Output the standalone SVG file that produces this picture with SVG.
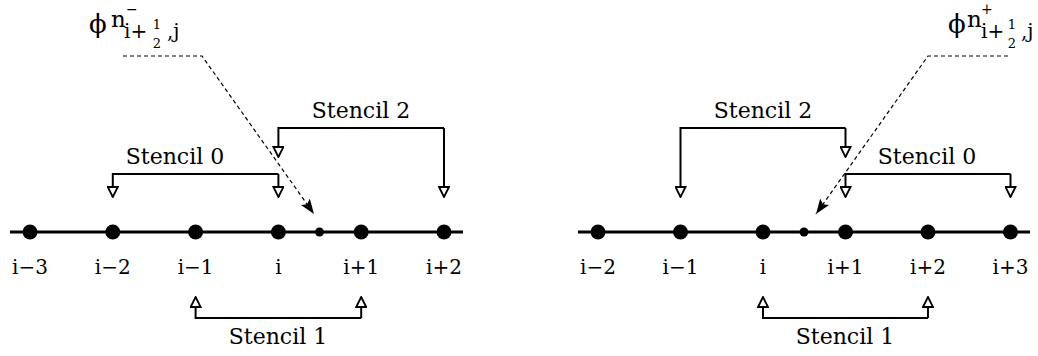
<svg xmlns="http://www.w3.org/2000/svg" width="1038" height="356" viewBox="0 0 1038 356">
<style>
text{font-family:"DejaVu Serif","Liberation Serif",serif;fill:#000}
.idx{font-size:20px;text-anchor:middle}
.st{font-size:22px;text-anchor:middle}
.axis{stroke:#000;stroke-width:3;fill:none}
.br{stroke:#000;stroke-width:2;fill:none;marker-end:url(#open)}
.dash{stroke:#000;stroke-width:1.2;fill:none;stroke-dasharray:4,3}
.dot{fill:#000}
.phi{font-size:26px}
.n{font-size:23px}
.sub{font-size:20px}
.fr{font-size:13px;text-anchor:middle}
.sup{font-size:14px}
</style>
<defs>
<marker id="open" markerUnits="userSpaceOnUse" viewBox="0 0 12 12" markerWidth="12" markerHeight="12" refX="11" refY="6" orient="auto">
<path d="M1,1 L11,6 L1,11 z" fill="#fff" stroke="#000" stroke-width="1.8"/>
</marker>
<marker id="solid" markerUnits="userSpaceOnUse" viewBox="0 0 16 12" markerWidth="16" markerHeight="12" refX="15" refY="6" orient="auto">
<path d="M0,0.5 L15,6 L0,11.5 L3,6 z" fill="#000"/>
</marker>
</defs>

<g id="connectors">
<line class="axis" x1="10" y1="232" x2="463" y2="232"/>
<polyline class="br" points="278.4,174 112.8,174 112.8,197"/>
<line class="br" x1="278.4" y1="174" x2="278.4" y2="197"/>
<polyline class="br" points="444,128 278.4,128 278.4,157"/>
<line class="br" x1="444" y1="128" x2="444" y2="197"/>
<polyline class="br" points="361.2,318 195.6,318 195.6,297"/>
<line class="br" x1="361.2" y1="318" x2="361.2" y2="297"/>
<polyline class="dash" points="123,56 202,56 314,214" marker-end="url(#solid)"/>
<line class="axis" x1="578" y1="232" x2="1030" y2="232"/>
<polyline class="br" points="845.5,128 680.5,128 680.5,197"/>
<line class="br" x1="845.5" y1="128" x2="845.5" y2="157"/>
<polyline class="br" points="1010.5,174 845.5,174 845.5,197"/>
<line class="br" x1="1010.5" y1="174" x2="1010.5" y2="197"/>
<polyline class="br" points="928,318 763,318 763,297"/>
<line class="br" x1="928" y1="318" x2="928" y2="297"/>
<polyline class="dash" points="1008,56 928,56 816,214" marker-end="url(#solid)"/>
</g>

<g id="left-points">
<circle class="dot" cx="30" cy="232" r="7.5"/>
<circle class="dot" cx="112.8" cy="232" r="7.5"/>
<circle class="dot" cx="195.6" cy="232" r="7.5"/>
<circle class="dot" cx="278.4" cy="232" r="7.5"/>
<circle class="dot" cx="361.2" cy="232" r="7.5"/>
<circle class="dot" cx="444" cy="232" r="7.5"/>
<circle class="dot" cx="319.5" cy="232" r="4.5"/>
<text class="idx" x="30" y="274">i−3</text>
<text class="idx" x="112.8" y="274">i−2</text>
<text class="idx" x="195.6" y="274">i−1</text>
<text class="idx" x="278.4" y="274">i</text>
<text class="idx" x="361.2" y="274">i+1</text>
<text class="idx" x="444" y="274">i+2</text>
</g>
<g id="left-stencil0"><text class="st" x="175" y="164">Stencil 0</text></g>
<g id="left-stencil2"><text class="st" x="361" y="118">Stencil 2</text></g>
<g id="left-stencil1"><text class="st" x="278" y="344">Stencil 1</text></g>
<g id="left-label">
<text class="phi" x="89" y="33">ϕ</text>
<text class="n" x="111" y="27">n</text>
<text class="sup" x="126" y="13.5">−</text>
<text class="sub" x="124" y="38">i+</text>
<text class="fr" x="157" y="29">1</text>
<text class="fr" x="157" y="48">2</text>
<text class="sub" x="167" y="38">,j</text>
</g>

<g id="right-points">
<circle class="dot" cx="598" cy="232" r="7.5"/>
<circle class="dot" cx="680.5" cy="232" r="7.5"/>
<circle class="dot" cx="763" cy="232" r="7.5"/>
<circle class="dot" cx="845.5" cy="232" r="7.5"/>
<circle class="dot" cx="928" cy="232" r="7.5"/>
<circle class="dot" cx="1010.5" cy="232" r="7.5"/>
<circle class="dot" cx="804" cy="232" r="4.5"/>
<text class="idx" x="598" y="274">i−2</text>
<text class="idx" x="680.5" y="274">i−1</text>
<text class="idx" x="763" y="274">i</text>
<text class="idx" x="845.5" y="274">i+1</text>
<text class="idx" x="928" y="274">i+2</text>
<text class="idx" x="1010.5" y="274">i+3</text>
</g>
<g id="right-stencil2"><text class="st" x="763" y="118">Stencil 2</text></g>
<g id="right-stencil0"><text class="st" x="927" y="164">Stencil 0</text></g>
<g id="right-stencil1"><text class="st" x="845" y="344">Stencil 1</text></g>
<g id="right-label">
<text class="phi" x="948" y="33">ϕ</text>
<text class="n" x="967" y="27">n</text>
<text class="sup" x="981" y="14">+</text>
<text class="sub" x="981" y="38">i+</text>
<text class="fr" x="1012" y="29">1</text>
<text class="fr" x="1012" y="48">2</text>
<text class="sub" x="1021" y="38">,j</text>
</g>
</svg>
